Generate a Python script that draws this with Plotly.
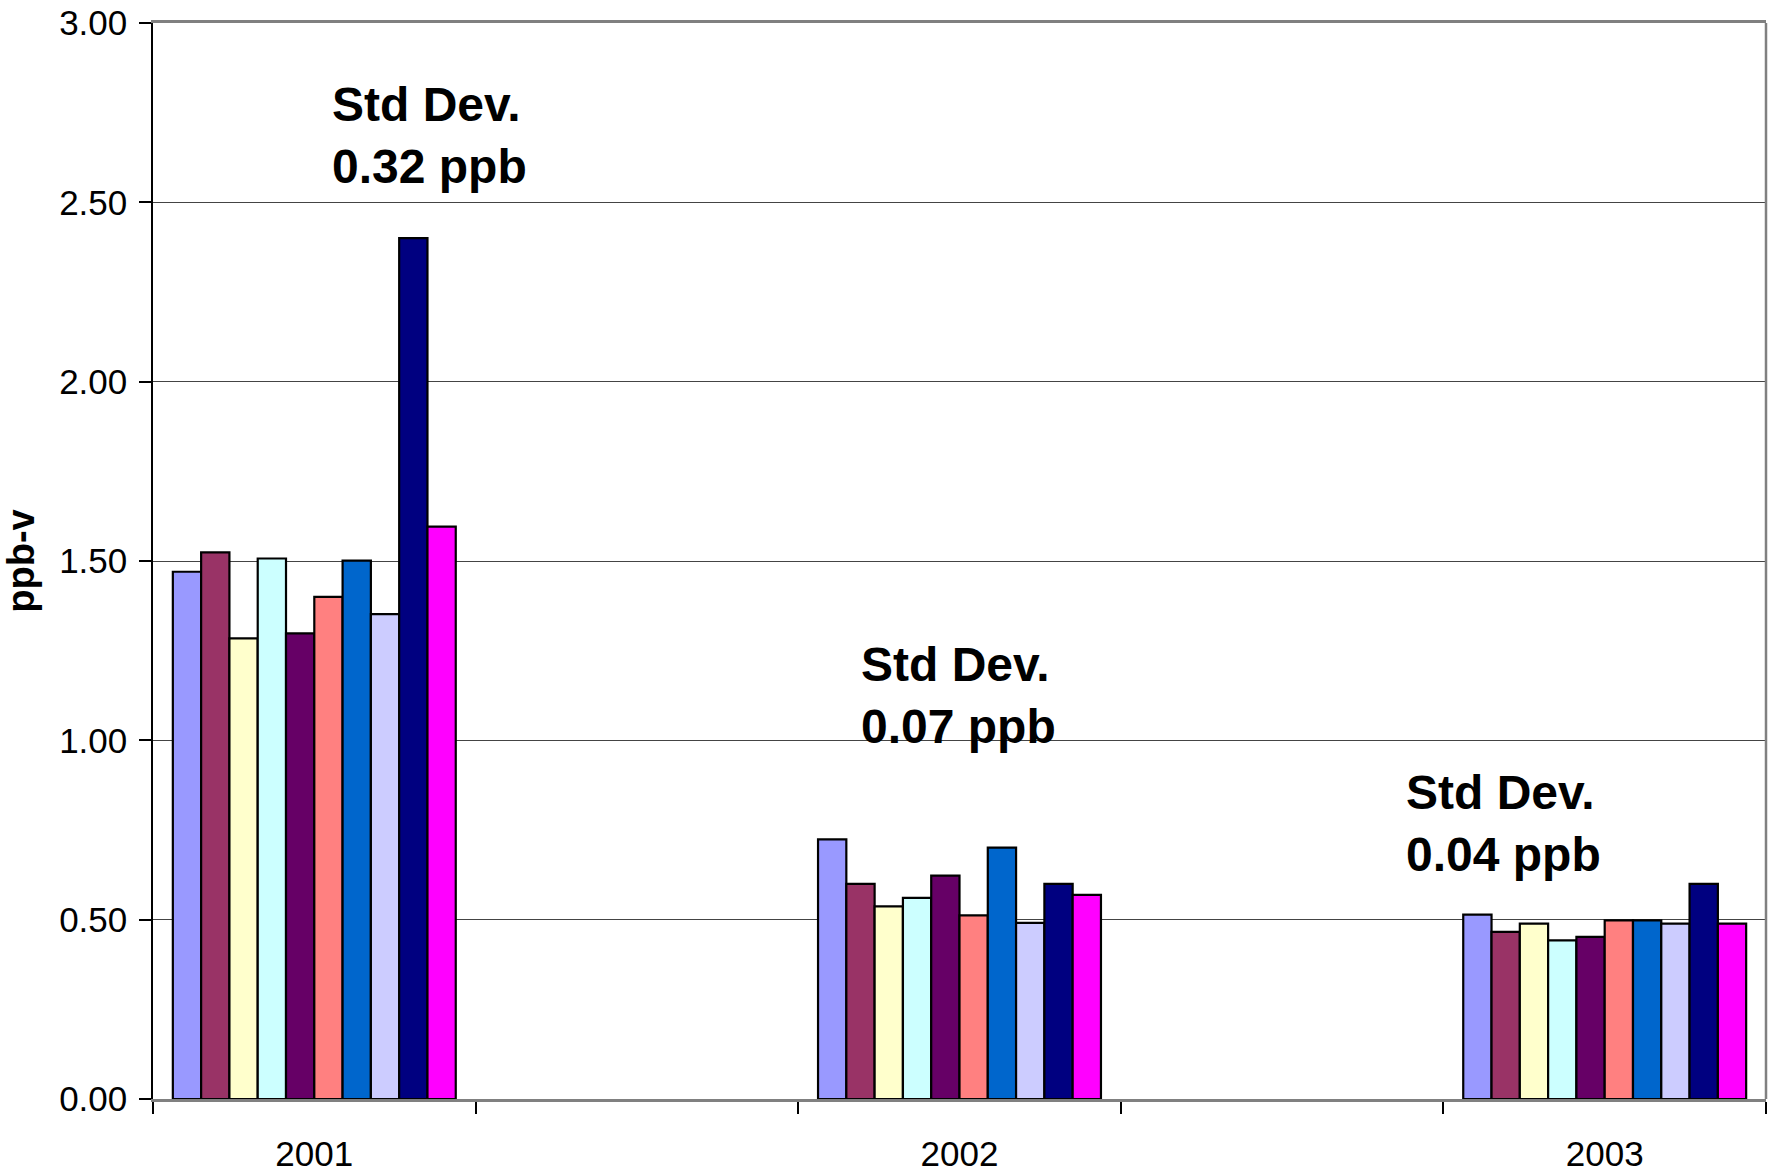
import plotly.graph_objects as go

# Categories (blank spacer categories sit between the years)
categories = ["2001", " ", "2002", "  ", "2003"]
years = ["2001", "2002", "2003"]

# One series per site (10 bars per year)
series_names = ["Site 1", "Site 2", "Site 3", "Site 4", "Site 5",
                "Site 6", "Site 7", "Site 8", "Site 9", "Site 10"]
series_colors = ["#9999FF", "#993366", "#FFFFCC", "#CCFFFF", "#660066",
                 "#FF8080", "#0066CC", "#CCCCFF", "#000080", "#FF00FF"]

values_2001 = [1.47, 1.524, 1.284, 1.507, 1.298, 1.40, 1.501, 1.352, 2.40, 1.596]
values_2002 = [0.724, 0.600, 0.537, 0.561, 0.623, 0.512, 0.701, 0.491, 0.600, 0.569]
values_2003 = [0.514, 0.466, 0.489, 0.442, 0.452, 0.498, 0.498, 0.489, 0.600, 0.489]

y_ticks = [0.0, 0.5, 1.0, 1.5, 2.0, 2.5, 3.0]
y_title = "ppb-v"

std_labels = ["Std Dev.<br>0.32 ppb", "Std Dev.<br>0.07 ppb", "Std Dev.<br>0.04 ppb"]
std_x = [0.110, 0.4376, 0.7756]
std_y = [2.687, 1.124, 0.768]

FONT = "Liberation Sans, Arial, sans-serif"

fig = go.Figure()
for i, name in enumerate(series_names):
    fig.add_trace(go.Bar(
        x=years,
        y=[values_2001[i], values_2002[i], values_2003[i]],
        name=name,
        marker=dict(color=series_colors[i], line=dict(color="black", width=2.2)),
    ))

for txt, ax, ay in zip(std_labels, std_x, std_y):
    fig.add_annotation(
        text=txt, x=ax, y=ay, xref="paper", yref="y",
        xanchor="left", yanchor="middle", align="left", showarrow=False,
        font=dict(family=FONT, size=48, color="black", weight="bold"),
    )

# right border of the plot area
fig.add_shape(type="line", xref="paper", yref="paper", x0=1, x1=1, y0=0, y1=1,
              line=dict(color="#808080", width=2.5))

fig.update_layout(
    width=1775, height=1176,
    margin=dict(l=153, r=9, t=23, b=77),
    paper_bgcolor="white", plot_bgcolor="white",
    barmode="group", bargap=0.123, bargroupgap=0,
    showlegend=False,
    font=dict(family=FONT, size=35, color="black"),
)
fig.update_xaxes(
    type="category", categoryorder="array", categoryarray=categories,
    tickmode="array", tickvals=categories, ticktext=["2001", "", "2002", "", "2003"],
    tickson="boundaries", ticks="outside", ticklen=12, tickwidth=1.5, tickcolor="black",
    showline=True, linecolor="#808080", linewidth=2.5, mirror=True,
    showgrid=False, ticklabelstandoff=22, automargin=False, ticklabeloverflow="allow",
    tickfont=dict(family=FONT, size=35, color="black"),
)
fig.update_yaxes(
    range=[0, 3.0], tickvals=y_ticks, tickformat=".2f",
    ticks="outside", ticklen=12, tickwidth=1.5, tickcolor="black",
    showline=True, linecolor="black", linewidth=1.5,
    showgrid=True, gridcolor="#444444", gridwidth=1.3,
    zeroline=False, automargin=False, ticklabeloverflow="allow", ticklabelstandoff=5,
    title=dict(text=y_title, font=dict(family=FONT, size=38, color="black", weight="bold"), standoff=18),
    tickfont=dict(family=FONT, size=35, color="black"),
)

fig.write_html("out.html", config={"displayModeBar": False},
               post_script="document.body.style.margin='0px';")
